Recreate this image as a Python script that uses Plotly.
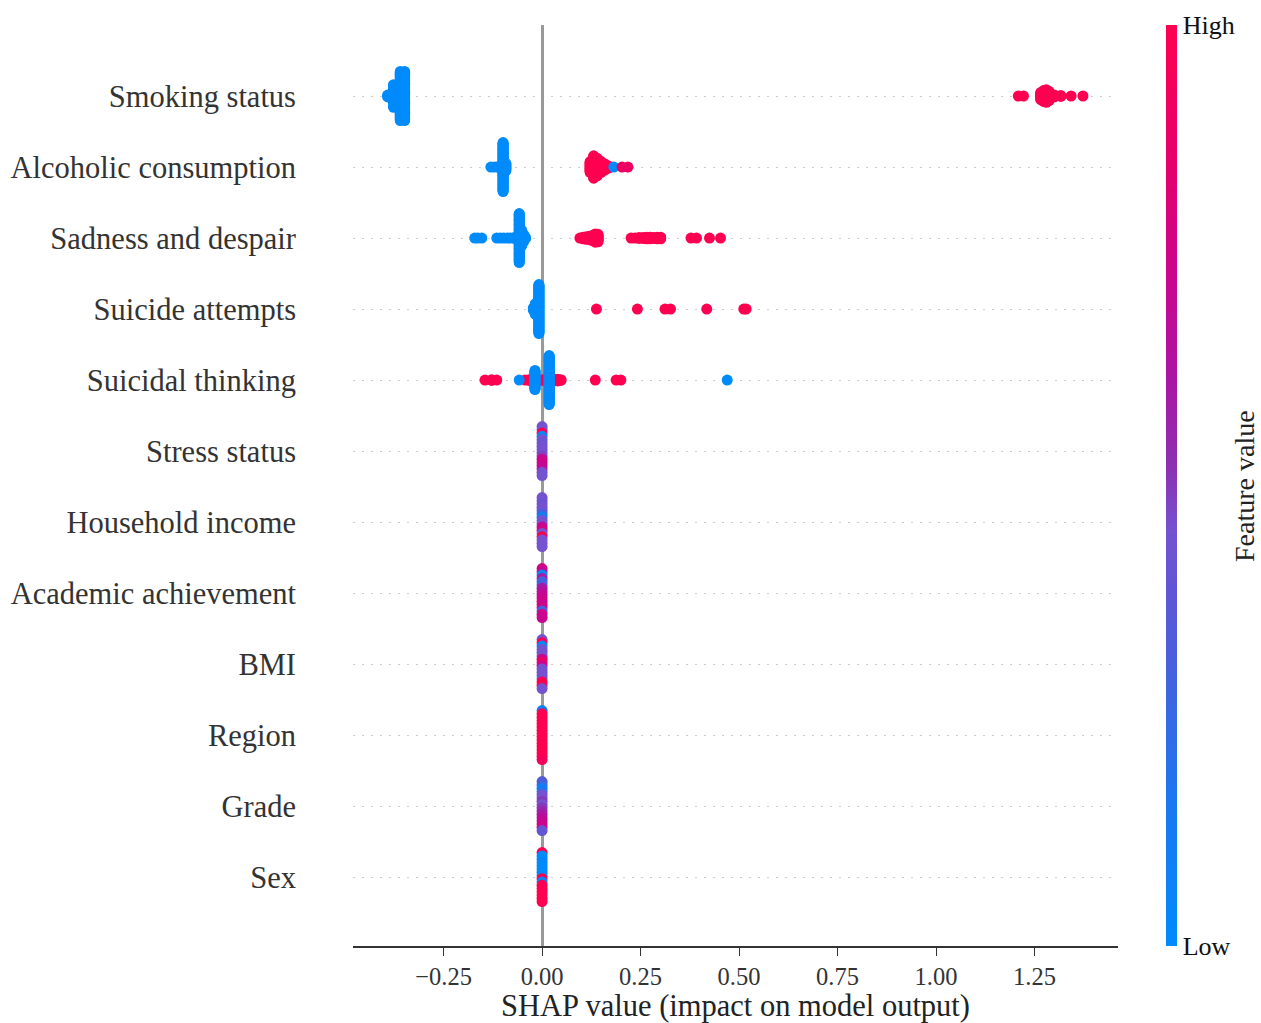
import plotly.graph_objects as go

# ---------------- data ----------------
# feature names, top to bottom
features = ["Smoking status", "Alcoholic consumption", "Sadness and despair",
            "Suicide attempts", "Suicidal thinking", "Stress status",
            "Household income", "Academic achievement", "BMI", "Region",
            "Grade", "Sex"]

# each group: SHAP value, number of samples, feature value (0 = low, 1 = high)
smoking_shap = [-0.392, -0.377, -0.360, -0.349, 1.209, 1.222, 1.266, 1.273, 1.280, 1.287, 1.300, 1.317, 1.343, 1.373]
smoking_n    = [3, 26, 55, 55, 1, 1, 9, 13, 15, 11, 3, 2, 1, 1]
smoking_feat = [0.0, 0.0, 0.0, 0.0, 1.0, 1.0, 1.0, 1.0, 1.0, 1.0, 1.0, 1.0, 1.0, 1.0]

alcohol_shap = [-0.130, -0.120, -0.110, -0.099, -0.092, 0.122, 0.131, 0.140, 0.150, 0.160, 0.170, 0.182, 0.203, 0.218]
alcohol_n    = [1, 1, 2, 60, 10, 14, 28, 22, 14, 8, 3, 1, 1, 1]
alcohol_feat = [0.0, 0.0, 0.0, 0.0, 0.0, 1.0, 1.0, 1.0, 1.0, 1.0, 1.0, 0.0, 0.9, 0.9]

sadness_shap = [-0.171, -0.163, -0.153, -0.115, -0.106, -0.097, -0.088, -0.080, -0.070,
                -0.058, -0.052, -0.047, -0.042,
                0.096, 0.104, 0.112, 0.120, 0.128, 0.135, 0.142,
                0.226, 0.236, 0.246, 0.256, 0.265, 0.274, 0.283, 0.292, 0.301,
                0.378, 0.392, 0.425, 0.453]
sadness_n    = [1, 1, 1, 1, 1, 1, 1, 1, 2,
                60, 20, 10, 2,
                1, 3, 4, 5, 7, 11, 10,
                1, 1, 2, 2, 3, 3, 2, 3, 3,
                1, 1, 1, 1]
sadness_feat = [0.0, 0.0, 0.0, 0.0, 0.0, 0.0, 0.0, 0.0, 0.0,
                0.0, 0.0, 0.0, 0.0,
                1.0, 1.0, 1.0, 1.0, 1.0, 1.0, 1.0,
                1.0, 1.0, 1.0, 1.0, 1.0, 1.0, 1.0, 1.0, 1.0,
                1.0, 1.0, 1.0, 1.0]

attempts_shap = [-0.022, -0.017, -0.008, 0.138, 0.242, 0.312, 0.326, 0.418, 0.512, 0.518]
attempts_n    = [4, 14, 60, 1, 1, 1, 1, 1, 1, 1]
attempts_feat = [0.0, 0.0, 0.0, 1.0, 1.0, 1.0, 1.0, 1.0, 1.0, 1.0]

thinking_shap = [-0.145, -0.128, -0.115, -0.043, -0.033, -0.025, -0.005, 0.005, 0.030, 0.040, 0.048,
                 0.135, 0.188, 0.200, -0.058, -0.018, 0.018, 0.470]
thinking_n    = [1, 2, 1, 1, 2, 1, 2, 2, 3, 3, 2,
                 1, 1, 1, 1, 24, 60, 1]
thinking_feat = [1.0, 1.0, 1.0, 1.0, 1.0, 1.0, 1.0, 1.0, 1.0, 1.0, 1.0,
                 1.0, 1.0, 1.0, 0.0, 0.0, 0.0, 0.0]

stress_shap = [0.0, 0.0, 0.0, 0.0, 0.0, 0.0, 0.0, 0.0, 0.0, 0.0, 0.0, 0.0, 0.0, 0.0, 0.0, 0.0]
stress_n    = [1, 1, 1, 1, 1, 1, 1, 1, 1, 1, 1, 1, 1, 1, 1, 1]
stress_feat = [0.45, 0.45, 1.0, 0.05, 0.45, 0.42, 0.45, 0.45, 0.45, 0.48, 0.72, 0.75, 0.72, 0.70, 0.45, 0.45]

income_shap = [0.0, 0.0, 0.0, 0.0, 0.0, 0.0, 0.0, 0.0, 0.0, 0.0, 0.0, 0.0, 0.0, 0.0, 0.0, 0.0]
income_n    = [1, 1, 1, 1, 1, 1, 1, 1, 1, 1, 1, 1, 1, 1, 1, 1]
income_feat = [0.45, 0.45, 0.42, 0.45, 0.45, 0.30, 0.10, 0.45, 0.45, 0.72, 0.75, 0.45, 1.0, 0.45, 0.45, 0.45]

academic_shap = [0.0, 0.0, 0.0, 0.0, 0.0, 0.0, 0.0, 0.0, 0.0, 0.0, 0.0, 0.0, 0.0, 0.0, 0.0, 0.0]
academic_n    = [1, 1, 1, 1, 1, 1, 1, 1, 1, 1, 1, 1, 1, 1, 1, 1]
academic_feat = [0.75, 0.72, 0.05, 0.60, 0.30, 0.30, 0.60, 0.62, 0.70, 0.72, 0.75, 0.72, 0.75, 0.30, 0.75, 0.72]

bmi_shap = [0.0, 0.0, 0.0, 0.0, 0.0, 0.0, 0.0, 0.0, 0.0, 0.0, 0.0, 0.0, 0.0, 0.0, 0.0, 0.0]
bmi_n    = [1, 1, 1, 1, 1, 1, 1, 1, 1, 1, 1, 1, 1, 1, 1, 1]
bmi_feat = [0.45, 1.0, 0.05, 0.45, 0.45, 0.45, 0.75, 0.92, 0.72, 0.45, 0.45, 0.45, 0.45, 1.0, 1.0, 0.45]

region_shap = [0.0, 0.0, 0.0, 0.0, 0.0, 0.0, 0.0, 0.0, 0.0, 0.0, 0.0, 0.0, 0.0, 0.0, 0.0, 0.0]
region_n    = [1, 1, 1, 1, 1, 1, 1, 1, 1, 1, 1, 1, 1, 1, 1, 1]
region_feat = [0.10, 1.0, 1.0, 1.0, 1.0, 1.0, 1.0, 1.0, 1.0, 1.0, 1.0, 1.0, 1.0, 1.0, 1.0, 0.95]

grade_shap = [0.0, 0.0, 0.0, 0.0, 0.0, 0.0, 0.0, 0.0, 0.0, 0.0, 0.0, 0.0, 0.0, 0.0, 0.0, 0.0]
grade_n    = [1, 1, 1, 1, 1, 1, 1, 1, 1, 1, 1, 1, 1, 1, 1, 1]
grade_feat = [0.35, 0.30, 0.10, 0.15, 0.45, 0.45, 0.50, 0.45, 0.50, 0.55, 0.60, 0.65, 0.70, 0.72, 0.75, 0.40]

sex_shap = [0.0, 0.0, 0.0, 0.0, 0.0, 0.0, 0.0, 0.0, 0.0, 0.0, 0.0, 0.0, 0.0, 0.0, 0.0, 0.0]
sex_n    = [1, 1, 1, 1, 1, 1, 1, 1, 1, 1, 1, 1, 1, 1, 1, 1]
sex_feat = [1.0, 0.0, 0.0, 0.05, 0.0, 0.0, 0.0, 0.0, 1.0, 0.05, 1.0, 1.0, 1.0, 1.0, 1.0, 1.0]

x_ticks = [-0.25, 0.0, 0.25, 0.50, 0.75, 1.00, 1.25]

rows = [
    (smoking_shap, smoking_n, smoking_feat),
    (alcohol_shap, alcohol_n, alcohol_feat),
    (sadness_shap, sadness_n, sadness_feat),
    (attempts_shap, attempts_n, attempts_feat),
    (thinking_shap, thinking_n, thinking_feat),
    (stress_shap, stress_n, stress_feat),
    (income_shap, income_n, income_feat),
    (academic_shap, academic_n, academic_feat),
    (bmi_shap, bmi_n, bmi_feat),
    (region_shap, region_n, region_feat),
    (grade_shap, grade_n, grade_feat),
    (sex_shap, sex_n, sex_feat),
]

# ---------------- beeswarm layout ----------------
FONT = "Liberation Serif, Times New Roman, serif"
HALF = 0.345  # max half-height of a swarm row, in row units

xs, ys, cs = [], [], []
n_rows = len(features)
for i, (sv, nv, fv) in enumerate(rows):
    row_y = n_rows - 1 - i
    stacks = {}
    order = []
    for s, n, f in zip(sv, nv, fv):
        for _ in range(n):
            if s not in stacks:
                stacks[s] = 0
            order.append((s, stacks[s], f))
            stacks[s] += 1
    hmax = max((m - 1) / 2 for m in stacks.values())
    step = HALF / hmax if hmax > 0 else 0
    for s, j, f in order:
        m = stacks[s]
        xs.append(s)
        ys.append(row_y + ((m - 1) / 2 - j) * step)
        cs.append(f)

cscale = [
    [0.0, "#008bfb"], [0.15, "#1a78f0"], [0.28, "#4064e0"], [0.38, "#5e56d6"],
    [0.45, "#7452d0"], [0.52, "#8c30b2"], [0.62, "#ac14a2"], [0.72, "#c8068f"],
    [0.85, "#e6006c"], [1.0, "#ff0051"],
]

fig = go.Figure()
fig.add_trace(go.Scatter(
    x=xs, y=ys, mode="markers", hoverinfo="skip", showlegend=False,
    marker=dict(
        size=11, color=cs, colorscale=cscale, cmin=0, cmax=1,
        line=dict(width=0), showscale=True,
        colorbar=dict(
            x=1.0627, xanchor="left", xpad=0, y=0.5, yanchor="middle",
            len=1.0, lenmode="fraction", ypad=0, thickness=11, outlinewidth=0,
            tickvals=[0, 1], ticktext=["Low", "High"], ticks="",
            tickfont=dict(family=FONT, size=26, color="#111111"),
        ),
    ),
))

fig.add_annotation(
    text="Feature value", xref="paper", yref="paper", x=1.166, y=0.4995,
    xanchor="center", yanchor="middle", textangle=-90, showarrow=False,
    font=dict(family=FONT, size=28, color="#222222"),
)

fig.update_layout(
    width=1261, height=1023,
    margin=dict(l=353, r=143, t=25, b=77),
    paper_bgcolor="white", plot_bgcolor="white",
    font=dict(family=FONT, color="#333333"),
)
fig.update_xaxes(
    range=[-0.48, 1.462], tickvals=x_ticks, tickformat=".2f",
    ticks="outside", ticklen=8, tickwidth=1.2, tickcolor="#333333",
    showline=True, linecolor="#333333", linewidth=1.5, mirror=False,
    showgrid=False, zeroline=True, zerolinecolor="#999999", zerolinewidth=3,
    automargin=False,
    tickfont=dict(family=FONT, size=24.5, color="#333333"),
    title=dict(text="SHAP value (impact on model output)", standoff=6,
               font=dict(family=FONT, size=30.5, color="#222222")),
)
fig.update_yaxes(
    range=[-0.97, 12], tickvals=list(range(n_rows)),
    ticktext=list(reversed(features)),
    showline=False, zeroline=False, ticks="", automargin=False,
    showgrid=True, gridcolor="#cccccc", gridwidth=1, griddash="2px,7px",
    ticklabelstandoff=56,
    tickfont=dict(family=FONT, size=30.5, color="#333333"),
)

fig.write_html(
    "out.html",
    config={"displayModeBar": False},
    post_script="document.body.style.margin='0px';document.body.style.overflow='hidden';",
)
